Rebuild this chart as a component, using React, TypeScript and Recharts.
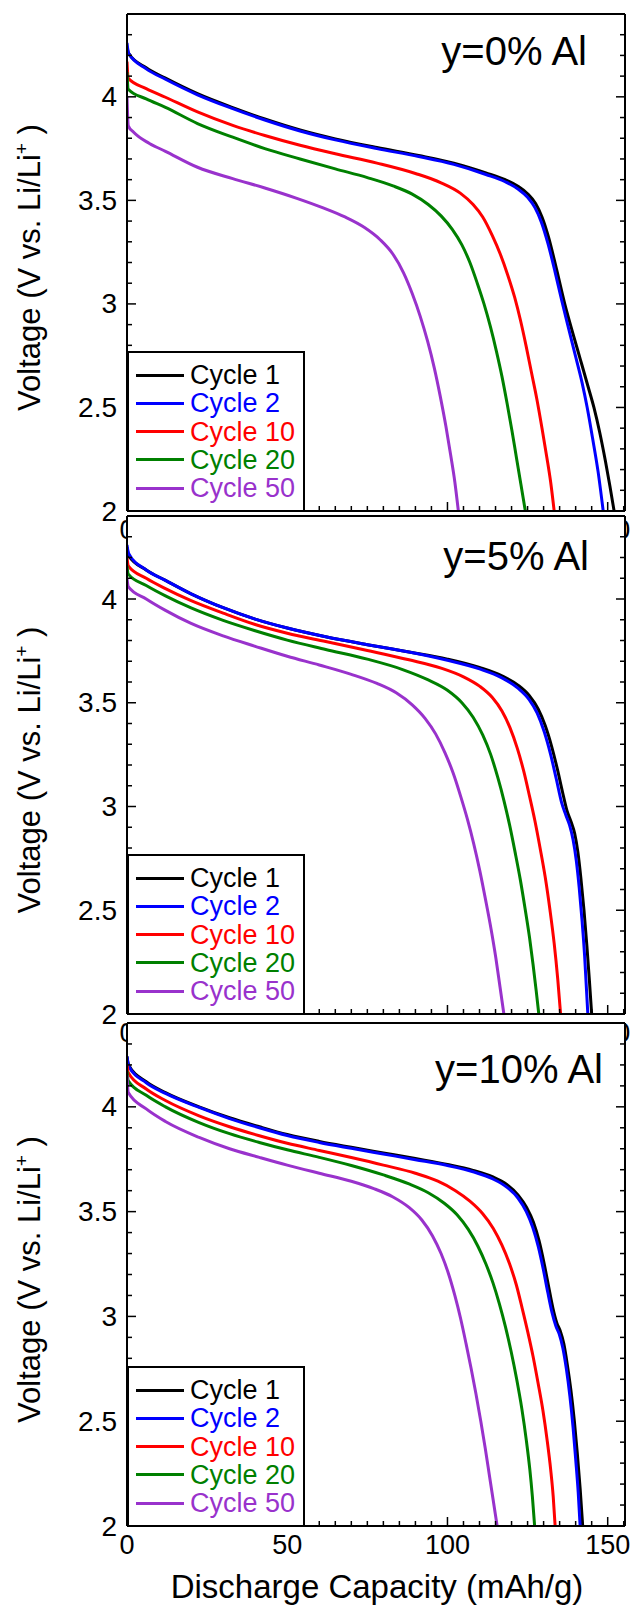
import React from 'react';
import { LineChart, Line, XAxis, YAxis, CartesianGrid, Legend } from 'recharts';

const FONT = '"Liberation Sans", Arial, Helvetica, sans-serif';

const SERIES_NAMES = ['Cycle 1', 'Cycle 2', 'Cycle 10', 'Cycle 20', 'Cycle 50'];
const SERIES_COLORS = ['#000000', '#0000ff', '#ff0000', '#008000', '#9932cc'];
const PANEL_TITLES = ['y=0% Al', 'y=5% Al', 'y=10% Al'];

const X_DOMAIN: [number, number] = [0, 155.4];
const Y_DOMAIN: [number, number] = [2, 4.4];
const X_TICKS = [0, 5, 10, 15, 20, 25, 30, 35, 40, 45, 50, 55, 60, 65, 70, 75, 80, 85, 90, 95, 100, 105, 110, 115, 120, 125, 130, 135, 140, 145, 150, 155];
const X_LABELS = [0, 50, 100, 150];
const X_LABELS_HIDDEN = [0, 150];
const Y_TICKS = [2, 2.1, 2.2, 2.3, 2.4, 2.5, 2.6, 2.7, 2.8, 2.9, 3, 3.1, 3.2, 3.3, 3.4, 3.5, 3.6, 3.7, 3.8, 3.9, 4, 4.1, 4.2, 4.3];
const Y_LABELS = [2, 2.5, 3, 3.5, 4];

// Panel 1: y=0% Al  [capacity mAh/g, voltage V]
const P1_C1 = [[0, 4.24], [0.5, 4.21], [6, 4.14], [12, 4.09], [22, 4.015], [33, 3.948], [43, 3.893], [54, 3.84], [65, 3.797], [78, 3.755], [91, 3.717], [102, 3.68], [112, 3.633], [118, 3.6], [122, 3.568], [125, 3.532], [127.5, 3.485], [129.5, 3.42], [131.5, 3.325], [134, 3.17], [136.6, 3.0], [139, 2.865], [141.5, 2.73], [143.8, 2.605], [145.7, 2.5], [147.5, 2.38], [149.3, 2.24], [150.7, 2.12], [152, 2.0]];
const P1_C2 = [[0, 4.26], [0.5, 4.21], [6, 4.135], [12, 4.085], [22, 4.01], [33, 3.943], [43, 3.888], [54, 3.835], [65, 3.792], [78, 3.75], [91, 3.712], [102, 3.674], [112, 3.625], [118, 3.59], [122, 3.555], [125, 3.515], [127.3, 3.465], [129.3, 3.395], [131.3, 3.295], [133.5, 3.16], [135.6, 3.02], [137.5, 2.9], [140, 2.745], [142, 2.62], [143.6, 2.5], [145.3, 2.35], [147, 2.19], [148.6, 2.0]];
const P1_C10 = [[0, 4.17], [0.4, 4.09], [6, 4.04], [12, 3.998], [22, 3.927], [33, 3.862], [43, 3.813], [54, 3.766], [65, 3.725], [78, 3.68], [90, 3.63], [98, 3.585], [104, 3.535], [108, 3.48], [111, 3.42], [114, 3.33], [116.5, 3.24], [118.8, 3.14], [121, 3.03], [122.8, 2.92], [124.5, 2.8], [126.2, 2.67], [127.9, 2.54], [129.5, 2.4], [131, 2.26], [132.2, 2.14], [133.3, 2.0]];
const P1_C20 = [[0, 4.12], [0.4, 4.037], [6, 3.99], [12, 3.949], [22, 3.871], [33, 3.805], [43, 3.75], [54, 3.7], [65, 3.652], [75, 3.61], [83, 3.57], [89, 3.53], [94, 3.48], [98, 3.425], [101.5, 3.36], [104.5, 3.285], [107, 3.2], [109.3, 3.1], [111.4, 3.0], [113.4, 2.89], [115.3, 2.77], [117, 2.65], [118.6, 2.52], [120.1, 2.39], [121.5, 2.26], [122.9, 2.13], [124.3, 2.0]];
const P1_C50 = [[0, 4.0], [0.4, 3.86], [2, 3.83], [7, 3.775], [12, 3.737], [22, 3.66], [33, 3.605], [43, 3.56], [53, 3.51], [61, 3.465], [68, 3.42], [74, 3.37], [79, 3.31], [83, 3.24], [86.3, 3.15], [89, 3.05], [91.5, 2.94], [93.8, 2.82], [95.9, 2.69], [97.8, 2.55], [99.5, 2.41], [101, 2.27], [102.3, 2.14], [103.4, 2.0]];

// Panel 2: y=5% Al
const P2_C1 = [[0, 4.25], [0.5, 4.21], [6, 4.14], [12, 4.09], [20, 4.025], [30, 3.958], [40, 3.903], [50, 3.86], [62, 3.818], [75, 3.78], [88, 3.745], [100, 3.71], [110, 3.67], [117, 3.63], [122, 3.585], [125.5, 3.535], [128.3, 3.47], [130.5, 3.39], [132.5, 3.29], [134.3, 3.18], [135.9, 3.07], [137.3, 2.98], [138.6, 2.925], [139.7, 2.87], [140.7, 2.78], [141.6, 2.66], [142.6, 2.5], [143.5, 2.33], [144.3, 2.16], [145, 2.0]];
const P2_C2 = [[0, 4.26], [0.5, 4.22], [6, 4.14], [12, 4.09], [20, 4.025], [30, 3.958], [40, 3.903], [50, 3.86], [62, 3.818], [75, 3.78], [88, 3.745], [100, 3.705], [110, 3.663], [117, 3.62], [122, 3.57], [125.5, 3.515], [128, 3.45], [130.2, 3.36], [132.2, 3.25], [134, 3.13], [135.6, 3.02], [136.9, 2.96], [138.1, 2.91], [139.2, 2.84], [140.2, 2.74], [141.1, 2.61], [142, 2.45], [142.8, 2.28], [143.3, 2.14], [143.8, 2.0]];
const P2_C10 = [[0, 4.2], [0.4, 4.16], [6, 4.1], [12, 4.05], [20, 3.992], [30, 3.932], [40, 3.877], [50, 3.835], [62, 3.795], [75, 3.752], [88, 3.707], [98, 3.667], [105, 3.625], [110, 3.58], [114, 3.525], [117, 3.46], [119.5, 3.38], [121.8, 3.28], [123.8, 3.17], [125.6, 3.05], [127.3, 2.93], [128.9, 2.8], [130.5, 2.66], [132, 2.5], [133.3, 2.34], [134.4, 2.17], [135.3, 2.0]];
const P2_C20 = [[0, 4.16], [0.4, 4.12], [6, 4.065], [12, 4.015], [20, 3.957], [30, 3.897], [40, 3.847], [50, 3.802], [62, 3.757], [75, 3.71], [86, 3.66], [94, 3.61], [100, 3.56], [104.5, 3.5], [108, 3.43], [111, 3.345], [113.5, 3.25], [115.7, 3.14], [117.6, 3.03], [119.4, 2.91], [121.1, 2.78], [122.7, 2.65], [124.2, 2.51], [125.6, 2.37], [126.7, 2.24], [127.7, 2.11], [128.5, 2.0]];
const P2_C50 = [[0, 4.1], [0.4, 4.06], [6, 4.0], [12, 3.945], [20, 3.882], [30, 3.822], [40, 3.772], [50, 3.724], [60, 3.682], [70, 3.637], [78, 3.593], [84, 3.548], [89, 3.49], [93, 3.425], [96.3, 3.35], [99.2, 3.26], [101.8, 3.16], [104.1, 3.05], [106.2, 2.94], [108.2, 2.82], [110.1, 2.69], [111.9, 2.55], [113.6, 2.41], [115.1, 2.27], [116.4, 2.13], [117.6, 2.0]];

// Panel 3: y=10% Al
const P3_C1 = [[0, 4.24], [0.5, 4.2], [6, 4.12], [12, 4.068], [22.5, 4.0], [32, 3.948], [41.3, 3.905], [50, 3.868], [60, 3.835], [70, 3.807], [80, 3.78], [90, 3.753], [100, 3.725], [108, 3.697], [114, 3.667], [118.5, 3.63], [122, 3.58], [124.7, 3.52], [126.8, 3.45], [128.6, 3.36], [130.2, 3.25], [131.6, 3.14], [132.9, 3.04], [134.1, 2.97], [135.2, 2.93], [136.3, 2.87], [137.4, 2.77], [138.5, 2.65], [139.6, 2.5], [140.5, 2.35], [141.4, 2.18], [142.2, 2.0]];
const P3_C2 = [[0, 4.24], [0.5, 4.195], [6, 4.115], [12, 4.064], [22.5, 3.997], [32, 3.944], [41.3, 3.9], [50, 3.863], [60, 3.83], [70, 3.802], [80, 3.775], [90, 3.748], [100, 3.72], [108, 3.69], [114, 3.657], [118.5, 3.617], [122, 3.565], [124.6, 3.5], [126.6, 3.425], [128.3, 3.335], [129.9, 3.225], [131.3, 3.115], [132.6, 3.02], [133.8, 2.955], [134.9, 2.915], [136, 2.85], [137.1, 2.75], [138.2, 2.62], [139.2, 2.47], [140, 2.32], [140.8, 2.16], [141.4, 2.0]];
const P3_C10 = [[0, 4.2], [0.4, 4.163], [6, 4.085], [12, 4.03], [22.5, 3.957], [32, 3.905], [41.3, 3.862], [50, 3.826], [60, 3.792], [70, 3.758], [80, 3.722], [90, 3.683], [97, 3.645], [102.5, 3.6], [107, 3.55], [111, 3.49], [114.3, 3.42], [117, 3.34], [119.4, 3.25], [121.5, 3.15], [123.3, 3.04], [125, 2.93], [126.7, 2.81], [128.3, 2.68], [129.8, 2.55], [131.1, 2.41], [132.2, 2.27], [133, 2.14], [133.6, 2.0]];
const P3_C20 = [[0, 4.17], [0.4, 4.124], [6, 4.055], [12, 4.0], [22.5, 3.925], [32, 3.872], [41.3, 3.83], [50, 3.795], [60, 3.759], [70, 3.72], [80, 3.675], [88, 3.632], [94, 3.59], [99, 3.54], [103, 3.485], [106.5, 3.415], [109.5, 3.335], [112, 3.25], [114.2, 3.16], [116.2, 3.06], [118.1, 2.95], [119.9, 2.83], [121.6, 2.7], [123.2, 2.56], [124.6, 2.41], [125.7, 2.27], [126.5, 2.14], [127.2, 2.0]];
const P3_C50 = [[0, 4.15], [0.4, 4.068], [6, 3.99], [12, 3.93], [22.5, 3.854], [32, 3.8], [41.3, 3.759], [50, 3.722], [60, 3.683], [70, 3.645], [77, 3.61], [83, 3.57], [88, 3.52], [92, 3.46], [95.3, 3.385], [98, 3.3], [100.3, 3.205], [102.3, 3.1], [104.1, 2.99], [105.8, 2.87], [107.4, 2.75], [108.9, 2.63], [110.4, 2.5], [111.8, 2.37], [113.1, 2.24], [114.3, 2.12], [115.5, 2.0]];

const PANEL_SERIES = [
  [P1_C1, P1_C2, P1_C10, P1_C20, P1_C50],
  [P2_C1, P2_C2, P2_C10, P2_C20, P2_C50],
  [P3_C1, P3_C2, P3_C10, P3_C20, P3_C50],
];

// layout (page pixels)
const PANEL_BOX = [
  { top: 14, bottom: 511, titleInset: 38, titleBase: 51 },
  { top: 516, bottom: 1014, titleInset: 36, titleBase: 54 },
  { top: 1023, bottom: 1526, titleInset: 22, titleBase: 60 },
];
const CHART_W = 638;
const LEFT_W = 127;
const RIGHT_W = 13;
const TOP_H = 10;

const isOn = (v: number, list: number[]) => list.some((m) => Math.abs(m - v) < 1e-6);

const makeXTick = (side: 'bottom' | 'top', labels: number[]) => (props: any) => {
  const { x, y, payload } = props;
  const v = payload.value;
  const major = isOn(v, X_LABELS);
  const len = major ? 9 : 5;
  const dir = side === 'bottom' ? -1 : 1;
  return (
    <g>
      <line x1={x} x2={x} y1={y} y2={y + dir * len} stroke="#000" strokeWidth={1.5} />
      {side === 'bottom' && isOn(v, labels) ? (
        <text x={x} y={y + 19} textAnchor="middle" dominantBaseline="central" fontSize={27} fontFamily={FONT} fill="#000">
          {String(v)}
        </text>
      ) : null}
    </g>
  );
};

const makeYTick = (side: 'left' | 'right') => (props: any) => {
  const { x, y, payload } = props;
  const v = payload.value;
  const major = isOn(v, Y_LABELS);
  const len = major ? 9 : 5;
  const dir = side === 'left' ? 1 : -1;
  return (
    <g>
      <line x1={x} x2={x + dir * len} y1={y} y2={y} stroke="#000" strokeWidth={1.5} />
      {side === 'left' && major ? (
        <text x={x - 10} y={y} textAnchor="end" dominantBaseline="central" fontSize={28} fontFamily={FONT} fill="#000">
          {String(v)}
        </text>
      ) : null}
    </g>
  );
};

const LegendBox = (props: any) => {
  const payload = [...(props.payload || [])].sort(
    (a: any, b: any) => SERIES_NAMES.indexOf(a.value) - SERIES_NAMES.indexOf(b.value)
  );
  return (
    <div
      style={{
        boxSizing: 'border-box',
        width: 178,
        height: 161,
        border: '2px solid #000',
        background: '#fff',
        position: 'relative',
        fontFamily: FONT,
      }}
    >
      {payload.map((p: any, i: number) => (
        <div key={i} style={{ position: 'absolute', left: 0, top: 24 + i * 28.3 - 2 - 15, height: 30, width: 174 }}>
          <div style={{ position: 'absolute', left: 7, top: 13.5, width: 48, height: 0, borderTop: `3px solid ${p.color}` }} />
          <div style={{ position: 'absolute', left: 61, top: 0, fontSize: 27, lineHeight: '30px', color: p.color, whiteSpace: 'nowrap' }}>
            {p.value}
          </div>
        </div>
      ))}
    </div>
  );
};

const Panel = ({ idx }: { idx: number }) => {
  const box = PANEL_BOX[idx];
  const plotH = box.bottom - box.top;
  const bottomH = idx === 2 ? 80 : 40;
  const height = TOP_H + plotH + bottomH;
  const series = PANEL_SERIES[idx];
  const title = PANEL_TITLES[idx];
  return (
    <div style={{ position: 'absolute', left: 0, top: box.top - TOP_H }}>
      <LineChart width={CHART_W} height={height} margin={{ top: 0, right: 0, bottom: 0, left: 0 }}>
        <CartesianGrid horizontal={false} vertical={false} fill="#ffffff" />
        <XAxis
          dataKey="c"
          type="number"
          domain={X_DOMAIN}
          ticks={X_TICKS}
          interval={0}
          tickSize={0}
          tickMargin={0}
          tickLine={false}
          tick={makeXTick('bottom', idx === 2 ? X_LABELS : X_LABELS_HIDDEN)}
          height={bottomH}
          axisLine={{ stroke: '#000', strokeWidth: 2 }}
          allowDataOverflow
          label={
            idx === 2
              ? {
                  content: (p: any) => {
                    const vb = p.viewBox;
                    return (
                      <text x={vb.x + vb.width / 2 + 1} y={vb.y + 72} textAnchor="middle" fontSize={33} fontFamily={FONT} fill="#000">
                        Discharge Capacity (mAh/g)
                      </text>
                    );
                  },
                }
              : undefined
          }
        />
        <XAxis
          xAxisId="t"
          orientation="top"
          type="number"
          domain={X_DOMAIN}
          ticks={X_TICKS}
          interval={0}
          tickSize={0}
          tickMargin={0}
          tickLine={false}
          tick={makeXTick('top', [])}
          height={TOP_H}
          axisLine={{ stroke: '#000', strokeWidth: 2 }}
          allowDataOverflow
          label={{
            content: (p: any) => {
              const vb = p.viewBox;
              return (
                <text
                  x={vb.x + vb.width - box.titleInset}
                  y={vb.y + vb.height + box.titleBase}
                  textAnchor="end"
                  fontSize={40}
                  fontFamily={FONT}
                  fill="#000"
                >
                  {title}
                </text>
              );
            },
          }}
        />
        <YAxis
          type="number"
          domain={Y_DOMAIN}
          ticks={Y_TICKS}
          interval={0}
          tickSize={0}
          tickMargin={0}
          tickLine={false}
          tick={makeYTick('left')}
          width={LEFT_W}
          axisLine={{ stroke: '#000', strokeWidth: 2 }}
          allowDataOverflow
          label={{
            content: (p: any) => {
              const vb = p.viewBox;
              const cx = 40;
              const cy = vb.y + vb.height / 2 + 5;
              return (
                <text
                  x={cx}
                  y={cy}
                  transform={`rotate(-90 ${cx} ${cy})`}
                  textAnchor="middle"
                  fontSize={31}
                  fontFamily={FONT}
                  fill="#000"
                >
                  Voltage (V vs. Li/Li
                  <tspan dy={-12} fontSize={19}>+</tspan>
                  <tspan dy={12}> )</tspan>
                </text>
              );
            },
          }}
        />
        <YAxis
          yAxisId="r"
          orientation="right"
          type="number"
          domain={Y_DOMAIN}
          ticks={Y_TICKS}
          interval={0}
          tickSize={0}
          tickMargin={0}
          tickLine={false}
          tick={makeYTick('right')}
          width={RIGHT_W}
          axisLine={{ stroke: '#000', strokeWidth: 2 }}
          allowDataOverflow
        />
        {series.map((arr, i) => (
          <Line
            key={SERIES_NAMES[i]}
            name={SERIES_NAMES[i]}
            data={arr.map(([c, v]) => ({ c, v }))}
            dataKey="v"
            type="monotone"
            stroke={SERIES_COLORS[i]}
            strokeWidth={3}
            dot={false}
            activeDot={false}
            isAnimationActive={false}
          />
        ))}
        <Legend
          layout="vertical"
          align="center"
          verticalAlign="middle"
          content={LegendBox}
          wrapperStyle={{ position: 'absolute', left: LEFT_W, top: TOP_H + plotH - 160, width: 178, height: 161 }}
        />
      </LineChart>
    </div>
  );
};

export default function App() {
  return (
    <div style={{ position: 'absolute', left: 0, top: 0, width: 638, height: 1606, background: '#fff', overflow: 'hidden' }}>
      <Panel idx={0} />
      <Panel idx={1} />
      <Panel idx={2} />
    </div>
  );
}
